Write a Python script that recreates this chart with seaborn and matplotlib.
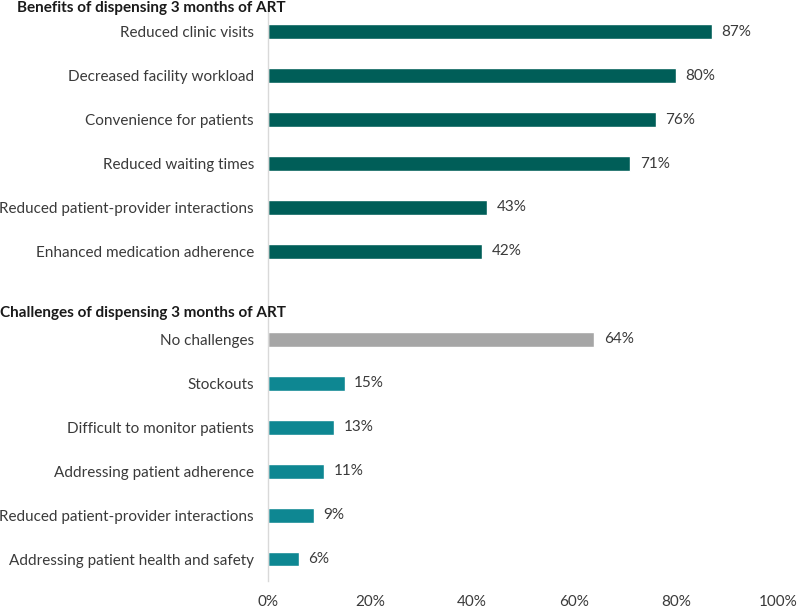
import matplotlib
matplotlib.use('Agg')
import matplotlib.pyplot as plt
import matplotlib.transforms as mtransforms
import seaborn as sns
import pandas as pd

# benefits block
benefit_labels = ['Reduced clinic visits', 'Decreased facility workload',
                  'Convenience for patients', 'Reduced waiting times',
                  'Reduced patient-provider interactions',
                  'Enhanced medication adherence']
benefit_values = [87, 80, 76, 71, 43, 42]

# challenges block
challenge_labels = ['No challenges', 'Stockouts', 'Difficult to monitor patients',
                    'Addressing patient adherence',
                    'Reduced patient-provider interactions',
                    'Addressing patient health and safety']
challenge_values = [64, 15, 13, 11, 9, 6]
challenge_groups = ['none', 'challenge', 'challenge', 'challenge', 'challenge', 'challenge']

headings = ['Benefits of dispensing 3 months of ART',
            'Challenges of dispensing 3 months of ART']
xticks = [0, 20, 40, 60, 80, 100]

palette = {'benefit': '#005E58', 'challenge': '#0E8792', 'none': '#A6A6A6'}

rows = []
for i, (lab, v) in enumerate(zip(benefit_labels, benefit_values)):
    rows.append(dict(key='b%d' % i, label=lab, value=v, grp='benefit'))
for i, (lab, v, g) in enumerate(zip(challenge_labels, challenge_values, challenge_groups)):
    rows.append(dict(key='c%d' % i, label=lab, value=v, grp=g))
df = pd.DataFrame(rows)

# blank slot between the two blocks
order = ['b%d' % i for i in range(6)] + ['gap'] + ['c%d' % i for i in range(6)]
tick_labels = benefit_labels + [''] + challenge_labels

sns.set_style('white')
plt.rcParams['font.family'] = ['Lato', 'DejaVu Sans']
text_col = '#3A3A3A'
fs = 11

fig = plt.figure(figsize=(8, 6.09), dpi=100)
ax = fig.add_axes([0.335, 0.046, 0.6375, 0.938])

sns.barplot(data=df, x='value', y='key', hue='grp', order=order, palette=palette,
            dodge=False, width=0.34, saturation=1, legend=False, ax=ax, orient='h')

for cont in ax.containers:
    ax.bar_label(cont, fmt='%d%%', padding=7, fontsize=fs, color=text_col)

ax.set_xlim(0, 100)
ax.set_xticks(xticks)
ax.set_xticklabels(['%d%%' % t for t in xticks], fontsize=fs, color=text_col)
ax.set_yticks(range(len(order)))
ax.set_yticklabels(tick_labels, fontsize=fs, color=text_col)
ax.tick_params(axis='both', length=0)
ax.tick_params(axis='x', pad=10)
ax.tick_params(axis='y', pad=10)
ax.set_xlabel('')
ax.set_ylabel('')
for s in ['top', 'right', 'bottom']:
    ax.spines[s].set_visible(False)
ax.spines['left'].set_color('#D9D9D9')
ax.spines['left'].set_linewidth(1)

trans = mtransforms.blended_transform_factory(fig.transFigure, ax.transData)
ax.text(286 / 800, -0.55, headings[0], transform=trans, ha='right', va='center',
        fontsize=fs, fontweight='bold', color='#1A1A1A')
ax.text(286 / 800, 7 - 0.6, headings[1], transform=trans, ha='right', va='center',
        fontsize=fs, fontweight='bold', color='#1A1A1A')

fig.savefig('out.png', dpi=100)
